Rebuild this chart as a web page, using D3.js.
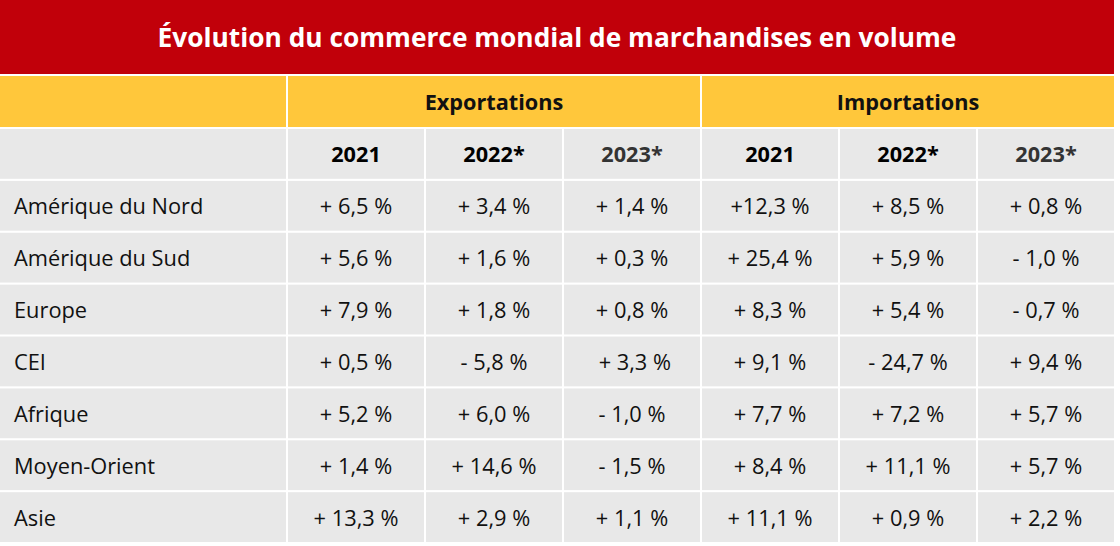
<!DOCTYPE html>
<html><head><meta charset="utf-8">
<script src="https://cdn.jsdelivr.net/npm/d3@7"></script>
<style>body{margin:0;background:#fff}svg{display:block}</style>
</head><body><div id="chart"></div>
<script>
const title = "Évolution du commerce mondial de marchandises en volume";
const groups = ["Exportations", "Importations"];
const years = ["2021", "2022*", "2023*"];
const regions = ["Amérique du Nord","Amérique du Sud","Europe","CEI","Afrique","Moyen-Orient","Asie"];
const exp2021 = ["+ 6,5 %","+ 5,6 %","+ 7,9 %","+ 0,5 %","+ 5,2 %","+ 1,4 %","+ 13,3 %"];
const exp2022 = ["+ 3,4 %","+ 1,6 %","+ 1,8 %","- 5,8 %","+ 6,0 %","+ 14,6 %","+ 2,9 %"];
const exp2023 = ["+ 1,4 %","+ 0,3 %","+ 0,8 %"," + 3,3 %","- 1,0 %","- 1,5 %","+ 1,1 %"];
const imp2021 = ["+12,3 %","+ 25,4 %","+ 8,3 %","+ 9,1 %","+ 7,7 %","+ 8,4 %","+ 11,1 %"];
const imp2022 = ["+ 8,5 %","+ 5,9 %","+ 5,4 %","- 24,7 %","+ 7,2 %","+ 11,1 %","+ 0,9 %"];
const imp2023 = ["+ 0,8 %","- 1,0 %","- 0,7 %","+ 9,4 %","+ 5,7 %","+ 5,7 %","+ 2,2 %"];
const series = [exp2021, exp2022, exp2023, imp2021, imp2022, imp2023];

const W = 1120, H = 546, tableW = 1114, firstW = 286;
const FONT = "'Open Sans', 'Noto Sans', sans-serif";
const svg = d3.select("#chart").append("svg").attr("width", W).attr("height", H);

const x = d3.scaleBand().domain(d3.range(6)).range([firstW, tableW]).paddingInner(0);
const xg = d3.scaleBand().domain(groups).range([firstW, tableW]);
const rowKeys = ["header", ...regions];
const y = d3.scaleBand().domain(rowKeys).range([129, 542]).paddingInner(0.04).paddingOuter(0);
const gap = 2;

svg.append("rect").attr("x", 0).attr("y", 0).attr("width", tableW).attr("height", 74).attr("fill", "#c1000a");
svg.append("text").attr("x", tableW / 2).attr("y", 37).attr("text-anchor", "middle").attr("dominant-baseline", "central")
  .attr("fill", "#fff").attr("font-family", FONT).attr("font-weight", 700).attr("font-size", 26.3).text(title);

const yb = 76, ybh = 51;
svg.append("rect").attr("x", 0).attr("y", yb).attr("width", firstW).attr("height", ybh).attr("fill", "#ffc73b");
groups.forEach(g => {
  svg.append("rect").attr("x", xg(g) + gap).attr("y", yb).attr("width", xg.bandwidth() - gap).attr("height", ybh).attr("fill", "#ffc73b");
  svg.append("text").attr("x", xg(g) + xg.bandwidth() / 2 + 1).attr("y", yb + ybh / 2).attr("text-anchor", "middle")
    .attr("dominant-baseline", "central").attr("font-family", FONT).attr("font-weight", 700).attr("font-size", 21.7)
    .attr("fill", "#111").text(g);
});

const rowH = y.bandwidth();
rowKeys.forEach((rk, ri) => {
  const ry = y(rk);
  svg.append("rect").attr("x", 0).attr("y", ry).attr("width", firstW).attr("height", rowH).attr("fill", "#e8e8e8");
  if (ri > 0) {
    svg.append("text").attr("x", 14).attr("y", ry + rowH / 2).attr("dominant-baseline", "central")
      .attr("font-family", FONT).attr("font-size", 21.8).attr("fill", "#111").text(rk);
  }
  d3.range(6).forEach(ci => {
    svg.append("rect").attr("x", x(ci) + gap).attr("y", ry).attr("width", x.bandwidth() - gap).attr("height", rowH).attr("fill", "#e8e8e8");
    const t = svg.append("text").attr("x", x(ci) + gap / 2 + x.bandwidth() / 2).attr("y", ry + rowH / 2)
      .attr("text-anchor", "middle").attr("dominant-baseline", "central").attr("font-family", FONT).attr("xml:space", "preserve");
    if (ri === 0) {
      const yr = years[ci % 3];
      t.attr("font-weight", 700).attr("font-size", 21.7).attr("fill", ci % 3 === 2 ? "#333" : "#000").text(yr);
    } else {
      t.attr("font-size", 21.8).attr("fill", "#111").text(series[ci][ri - 1]);
    }
  });
});
</script></body></html>
